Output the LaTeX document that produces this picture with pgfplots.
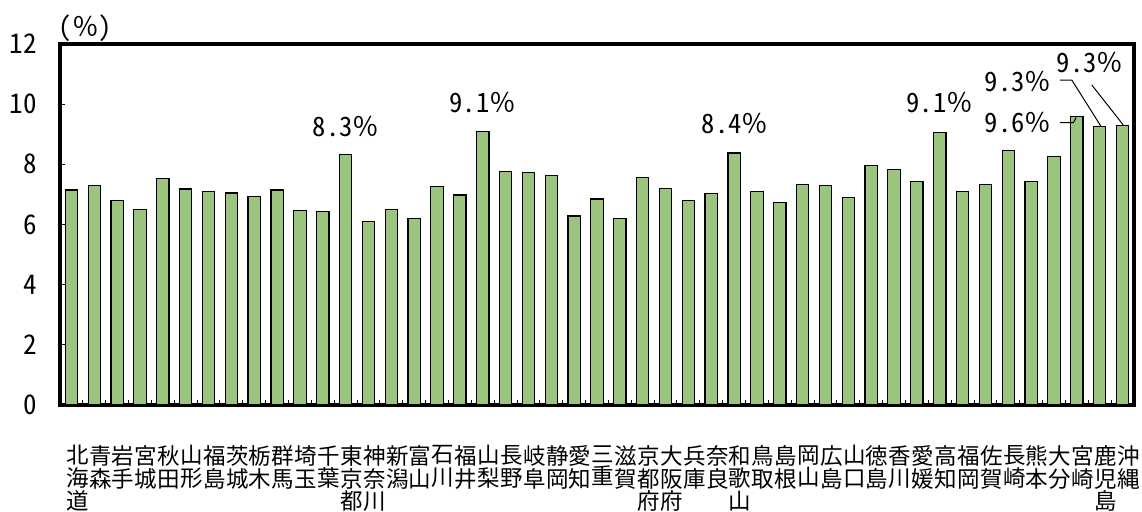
\documentclass[border=0pt]{standalone}
\usepackage{pgfplots}
\pgfplotsset{compat=1.18}
\usepackage{fontspec}
\setmainfont[RawFeature=+hwid]{Noto Sans CJK JP}
\newfontfamily\jpfw{Noto Sans CJK JP}
\newcommand{\pc}{{\jpfw ％}}
\definecolor{barg}{RGB}{155,196,127}
\begin{document}
\begin{tikzpicture}
\path[use as bounding box] (-30pt,-53pt) rectangle (541pt,202.5pt);
\begin{axis}[
  at={(0,0)}, anchor=south west,
  scale only axis, width=537pt, height=180.5pt,
  xmin=-0.5, xmax=46.5, ymin=0, ymax=12,
  ybar, bar width=0.54,
  ytick={0,2,...,12},
  xtick={0,...,46},
  xticklabels={{北\\海\\道},{青\\森},{岩\\手},{宮\\城},{秋\\田},{山\\形},{福\\島},{茨\\城},{栃\\木},{群\\馬},{埼\\玉},{千\\葉},{東\\京\\都},{神\\奈\\川},{新\\潟},{富\\山},{石\\川},{福\\井},{山\\梨},{長\\野},{岐\\阜},{静\\岡},{愛\\知},{三\\重},{滋\\賀},{京\\都\\府},{大\\阪\\府},{兵\\庫},{奈\\良},{和\\歌\\山},{鳥\\取},{島\\根},{岡\\山},{広\\島},{山\\口},{徳\\島},{香\\川},{愛\\媛},{高\\知},{福\\岡},{佐\\賀},{長\\崎},{熊\\本},{大\\分},{宮\\崎},{鹿\\児\\島},{沖\\縄}},
  minor xtick={-0.5,0.5,...,46.5},
  every major x tick/.append style={draw=none},
  tick align=inside,
  xtick pos=bottom, ytick pos=left,
  axis line style={line width=2pt, line cap=rect},
  tick style={line width=0.5pt, black},
  major tick length=2.5pt, minor tick length=2.5pt,
  /pgf/number format/assume math mode=true,
  yticklabel style={anchor=east, inner sep=0pt, xshift=-11.5pt, font=\fontsize{13.5}{14}\selectfont},
  xticklabel style={anchor=north, align=center, inner sep=0pt, yshift=-20pt, xshift=3pt, font=\fontsize{11.25}{11.4}\selectfont},
  clip=false,
]
\addplot[fill=barg, draw=black, line width=0.6pt] coordinates {
(0,7.15) (1,7.29) (2,6.81) (3,6.51) (4,7.52) (5,7.18) (6,7.10) (7,7.05) (8,6.94) (9,7.15)
(10,6.47) (11,6.43) (12,8.34) (13,6.11) (14,6.49) (15,6.20) (16,7.26) (17,6.98) (18,9.09) (19,7.76)
(20,7.72) (21,7.64) (22,6.28) (23,6.85) (24,6.21) (25,7.56) (26,7.20) (27,6.80) (28,7.03) (29,8.38)
(30,7.11) (31,6.72) (32,7.33) (33,7.29) (34,6.90) (35,7.96) (36,7.83) (37,7.42) (38,9.06) (39,7.09)
(40,7.33) (41,8.47) (42,7.43) (43,8.25) (44,9.59) (45,9.27) (46,9.29)
};
\begin{scope}[every node/.style={font=\fontsize{13.3}{14}\selectfont, inner sep=0pt}]
\node at (axis cs:12.02,9.24) {8.3\pc};
\node at (axis cs:18.0,10.07) {9.1\pc};
\node at (axis cs:29.04,9.34) {8.4\pc};
\node at (axis cs:38.0,10.04) {9.1\pc};
\node at (axis cs:41.43,9.375) {9.6\pc};
\node at (axis cs:41.43,10.74) {9.3\pc};
\node at (axis cs:44.58,11.37) {9.3\pc};
\node at (rel axis cs:0.0238,1.045) {(\pc)};
\end{scope}
\draw[line width=0.5pt] (axis cs:43.26,9.385) -- (axis cs:43.85,9.385) -- (axis cs:43.97,9.56);
\draw[line width=0.5pt] (axis cs:43.26,10.80) -- (axis cs:43.78,10.80) -- (axis cs:45.05,9.27);
\draw[line width=0.5pt] (axis cs:44.65,10.64) -- (axis cs:46.03,9.31);
\end{axis}
\end{tikzpicture}
\end{document}
